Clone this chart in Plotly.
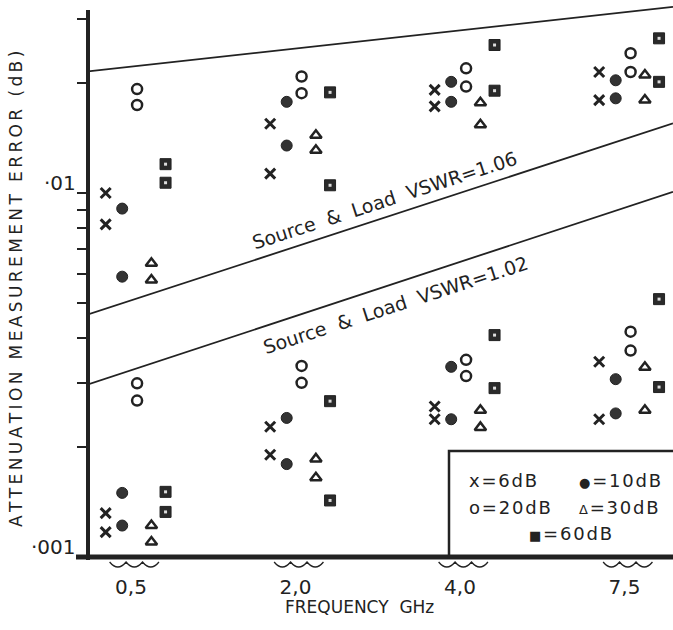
import math
import plotly.graph_objects as go

# ---------------- data ----------------
FREQ_LABELS = ["0,5", "2,0", "4,0", "7,5"]   # GHz

# measured attenuation error (dB): per frequency, two readings in the upper band
# (mismatch VSWR 1.06) and two in the lower band (VSWR 1.02)
ERR_6DB = [[0.0100, 0.0082, 0.00132, 0.00117],
           [0.0155, 0.0113, 0.00228, 0.00191],
           [0.0192, 0.0173, 0.00259, 0.00239],
           [0.0215, 0.0180, 0.00344, 0.00239]]
ERR_10DB = [[0.00906, 0.00589, 0.00150, 0.00122],
            [0.0178, 0.0135, 0.00241, 0.00180],
            [0.0202, 0.0178, 0.00333, 0.00239],
            [0.0204, 0.0182, 0.00308, 0.00248]]
ERR_20DB = [[0.0193, 0.01745, 0.00300, 0.00269],
            [0.0209, 0.0188, 0.00335, 0.00301],
            [0.0220, 0.0196, 0.00348, 0.00314],
            [0.0242, 0.0215, 0.00416, 0.00369]]
ERR_30DB = [[0.00641, 0.00577, 0.00122, 0.00110],
            [0.0144, 0.0131, 0.00186, 0.00165],
            [0.0177, 0.0154, 0.00253, 0.00227],
            [0.0211, 0.0180, 0.00332, 0.00253]]
ERR_60DB = [[0.0120, 0.01067, 0.00151, 0.00133],
            [0.0189, 0.0105, 0.00268, 0.00143],
            [0.0255, 0.0191, 0.00407, 0.00291],
            [0.0266, 0.0202, 0.00511, 0.00293]]

# boundary lines: value at left and right edge of the frequency axis
LINE_UPPER = [0.02158, 0.03245]
LINE_VSWR_106 = [0.004637, 0.01554]
LINE_VSWR_102 = [0.002978, 0.01008]

Y_TICKS = [0.002, 0.003, 0.004, 0.005, 0.006, 0.007, 0.008, 0.009, 0.01, 0.02, 0.03]

# ---------------- style ----------------
INK = "#222222"
FONT = "DejaVu Sans"
W, H = 673, 630
ML, MR, MT, MB = 88, 0, 0, 73
PW, PH = W - ML - MR, H - MT - MB
X_RANGE = [-0.2614, 3.2948]
Y_RANGE = [-3, math.log10(0.0339)]
THIN = "\u2009"
HAIR = "\u200a"


def px(xp):
    return (xp - ML) / PW


def py(yp):
    return (H - MB - yp) / PH


def spaced(s, sep=THIN):
    return sep.join(s)


series = [
    ("6dB", ERR_6DB, -0.154, dict(symbol="x-thin-open", size=10, line=dict(width=3, color=INK), color=INK)),
    ("10dB", ERR_10DB, -0.0535, dict(symbol="circle", size=11, color="#333333", line=dict(width=1, color=INK))),
    ("20dB", ERR_20DB, 0.037, dict(symbol="circle-open", size=10, line=dict(width=2.5, color=INK), color=INK)),
    ("30dB", ERR_30DB, 0.124, dict(symbol="triangle-up-open", size=10, line=dict(width=2.5, color=INK), color=INK)),
    ("60dB", ERR_60DB, 0.21, dict(symbol="square", size=11, color="#2a2a2a", line=dict(width=1, color=INK))),
]

fig = go.Figure()

# boundary lines
for vals in (LINE_UPPER, LINE_VSWR_106, LINE_VSWR_102):
    fig.add_trace(go.Scatter(x=X_RANGE, y=vals, mode="lines",
                             line=dict(color=INK, width=1.8), showlegend=False,
                             hoverinfo="skip"))

for name, data, off, marker in series:
    xs, ys = [], []
    for g, vals in enumerate(data):
        for v in vals:
            xs.append(g + off)
            ys.append(v)
    fig.add_trace(go.Scatter(x=xs, y=ys, mode="markers", name=name,
                             marker=marker, showlegend=False, cliponaxis=False))
    if name == "60dB":
        # light centre spot of the square symbol
        fig.add_trace(go.Scatter(x=xs, y=ys, mode="markers", showlegend=False,
                                 marker=dict(symbol="square", size=3, color="#dddddd"),
                                 hoverinfo="skip", cliponaxis=False))

shapes = []
# axes lines
shapes.append(dict(type="line", xref="paper", yref="paper", x0=0, x1=0,
                   y0=py(560), y1=py(10), line=dict(color=INK, width=4)))
shapes.append(dict(type="line", xref="paper", yref="paper", x0=px(76), x1=1.0,
                   y0=0, y1=0, line=dict(color=INK, width=5)))
# legend box
shapes.append(dict(type="rect", xref="paper", yref="paper", x0=px(449), x1=1.01,
                   y0=0, y1=py(451), line=dict(color=INK, width=2.5)))
# wavy braces under each frequency group
ytop, ybot = py(562), py(572)
for g in range(len(FREQ_LABELS)):
    w = 0.30
    x0 = g + 0.02 - w / 2
    d = f"M {x0},{ytop}"
    for k in range(3):
        a = x0 + k * w / 3
        d += f" Q {a + w / 6},{ybot} {a + w / 3},{ytop}"
    shapes.append(dict(type="path", xref="x", yref="paper", path=d,
                       line=dict(color=INK, width=1.3)))

ann = []
# y tick labels
for v, txt in ((0.01, "·01"), (0.001, "·001")):
    ann.append(dict(x=0, xref="paper", y=math.log10(v), yref="y", text=txt,
                    showarrow=False, xanchor="right", yanchor="middle",
                    xshift=-10, yshift=10, font=dict(family=FONT, size=20, color=INK)))
# axis titles
ann.append(dict(x=px(16), y=py(289), xref="paper", yref="paper",
                text=spaced("ATTENUATION MEASUREMENT ERROR (dB)"), textangle=-90,
                showarrow=False, xanchor="center", yanchor="middle",
                font=dict(family=FONT, size=17, color=INK)))
ann.append(dict(x=px(359), y=py(607), xref="paper", yref="paper",
                text="FREQUENCY  GHz", showarrow=False, xanchor="center",
                yanchor="middle", font=dict(family=FONT, size=17, color=INK)))
# line labels
ann.append(dict(x=1.544, y=-2.0192, xref="x", yref="y",
                text="Source  &  Load  VSWR=1.06", textangle=-18, showarrow=False,
                font=dict(family=FONT, size=19, color=INK)))
ann.append(dict(x=1.605, y=-2.3077, xref="x", yref="y",
                text="Source  &  Load  VSWR=1.02", textangle=-18, showarrow=False,
                font=dict(family=FONT, size=19, color=INK)))
# legend entries
SMALL = "<span style='font-size:13px'>{}</span>"
leg = [("x", "=6dB", 467, 480), (SMALL.format("●"), "=10dB", 577, 480),
       ("o", "=20dB", 467, 507), (SMALL.format("Δ"), "=30dB", 577, 507),
       (SMALL.format("■"), "=60dB", 527, 533)]
for sym, txt, lx, ly in leg:
    ann.append(dict(x=px(lx), y=py(ly), xref="paper", yref="paper",
                    text=sym + HAIR + spaced(txt, HAIR),
                    showarrow=False, xanchor="left", yanchor="middle",
                    font=dict(family=FONT, size=18, color=INK)))

fig.update_layout(
    width=W, height=H, margin=dict(l=ML, r=MR, t=MT, b=MB),
    paper_bgcolor="white", plot_bgcolor="white",
    shapes=shapes, annotations=ann,
    xaxis=dict(range=X_RANGE, showgrid=False, zeroline=False, showline=False,
               tickvals=list(range(len(FREQ_LABELS))), ticktext=FREQ_LABELS,
               ticks="", ticklabelstandoff=16,
               tickfont=dict(family=FONT, size=20, color=INK)),
    yaxis=dict(type="log", range=Y_RANGE, showgrid=False, zeroline=False,
               showline=False, tickvals=Y_TICKS, showticklabels=False,
               ticks="outside", ticklen=10, tickwidth=2, tickcolor=INK),
    showlegend=False,
)

fig.write_html("out.html")
